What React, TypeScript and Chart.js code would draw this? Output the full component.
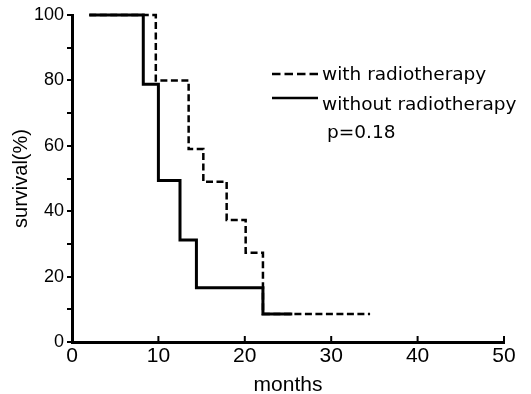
import React, { useEffect, useRef } from 'react';
import { Chart, registerables } from 'chart.js';

Chart.register(...registerables);

// Kaplan-Meier data
const withMonths = [2, 9.7, 13.5, 15.2, 17.9, 20.1, 22.1, 34.5];
const withSurvival = [100, 80, 59, 49, 37.3, 27.3, 8.6, 8.6];
const withoutMonths = [2, 8.25, 10.0, 12.5, 14.4, 22.1, 25.5];
const withoutSurvival = [100, 78.8, 49.4, 31.2, 16.6, 8.6, 8.6];

const seriesLabels = ['with radiotherapy', 'without radiotherapy'];
const pValueText = 'p=0.18';
const xTickValues = [0, 10, 20, 30, 40, 50];
const yTickValues = [0, 10, 20, 30, 40, 50, 60, 70, 80, 90, 100];
const yLabelledTicks = [0, 20, 40, 60, 80, 100];
const xTitle = 'months';
const yTitle = 'survival(%)';

const SANS = "'Liberation Sans', Arial, sans-serif";
const LEGEND_FONT = "'DejaVu Sans', 'Liberation Sans', sans-serif";

const decorPlugin = {
  id: 'decor',
  afterDraw(chart: any) {
    const { ctx, chartArea } = chart;
    const xs = chart.scales.x;
    ctx.save();
    // inward ticks on the x axis
    ctx.strokeStyle = '#000';
    ctx.lineWidth = 2;
    xs.ticks.forEach((t: any) => {
      if (t.value === 0) return;
      const px = xs.getPixelForValue(t.value);
      ctx.beginPath();
      ctx.moveTo(px, chartArea.bottom);
      ctx.lineTo(px, chartArea.bottom - 6);
      ctx.stroke();
    });

    // legend
    const ds = chart.data.datasets;
    const rows = [
      { lineY: 74, textY: 80 },
      { lineY: 98, textY: 110 },
    ];
    ctx.font = `18.5px ${LEGEND_FONT}`;
    ctx.fillStyle = '#000';
    ctx.textBaseline = 'alphabetic';
    ctx.textAlign = 'left';
    ds.forEach((d: any, i: number) => {
      const r = rows[i];
      ctx.beginPath();
      ctx.lineWidth = 2.5;
      ctx.setLineDash(i === 0 ? [8.5, 4] : []);
      ctx.moveTo(272, r.lineY);
      ctx.lineTo(318, r.lineY);
      ctx.stroke();
      ctx.setLineDash([]);
      ctx.fillText(d.label, 322, r.textY);
    });
    ctx.fillText(pValueText, 327, 138);
    ctx.restore();
  },
};

export default function App() {
  const ref = useRef<HTMLCanvasElement>(null);

  useEffect(() => {
    document.body.style.margin = '0';
    const canvas = ref.current!;
    const chart = new Chart(canvas, {
      type: 'line',
      data: {
        datasets: [
          {
            label: seriesLabels[0],
            data: withMonths.map((m, i) => ({ x: m, y: withSurvival[i] })),
            borderColor: '#000',
            borderWidth: 2.5,
            borderDash: [7, 3.5],
            stepped: 'before',
            pointRadius: 0,
            fill: false,
            clip: false,
          },
          {
            label: seriesLabels[1],
            data: withoutMonths.map((m, i) => ({ x: m, y: withoutSurvival[i] })),
            borderColor: '#000',
            borderWidth: 3,
            stepped: 'before',
            pointRadius: 0,
            fill: false,
            clip: false,
          },
        ],
      },
      options: {
        animation: false,
        responsive: false,
        layout: { padding: { top: 15, right: 27, left: 0, bottom: 0 } },
        plugins: { legend: { display: false }, tooltip: { enabled: false } },
        scales: {
          x: {
            type: 'linear',
            min: 0,
            max: 50,
            afterBuildTicks: (s: any) => {
              s.ticks = xTickValues.map((v) => ({ value: v }));
            },
            afterFit: (s: any) => {
              s.height = 52;
            },
            grid: { display: false, drawTicks: false },
            border: { display: true, color: '#000', width: 3 },
            ticks: {
              color: '#000',
              font: { family: SANS, size: 21, lineHeight: 1 },
              padding: 3.5,
              maxRotation: 0,
              autoSkip: false,
            },
            title: {
              display: true,
              text: xTitle,
              color: '#000',
              font: { family: SANS, size: 21, lineHeight: 0.8 },
              padding: { top: 0, bottom: 0 },
            },
          },
          y: {
            type: 'linear',
            min: 0,
            max: 100,
            afterBuildTicks: (s: any) => {
              s.ticks = yTickValues.map((v) => ({ value: v }));
            },
            afterFit: (s: any) => {
              s.width = 72;
            },
            grid: {
              display: true,
              drawOnChartArea: false,
              drawTicks: true,
              tickLength: 5,
              color: '#000',
              lineWidth: 2,
            },
            border: { display: true, color: '#000', width: 3 },
            ticks: {
              color: '#000',
              font: { family: SANS, size: 18 },
              padding: 3,
              autoSkip: false,
              callback: (v: any) => (yLabelledTicks.includes(Number(v)) ? String(v) : ''),
            },
            title: {
              display: true,
              text: yTitle,
              color: '#000',
              font: { family: SANS, size: 20, lineHeight: 1.2 },
              padding: { top: 9, bottom: 0 },
            },
          },
        },
      },
      plugins: [decorPlugin],
    } as any);
    return () => chart.destroy();
  }, []);

  return <canvas ref={ref} width={531} height={394} style={{ display: 'block' }} />;
}
